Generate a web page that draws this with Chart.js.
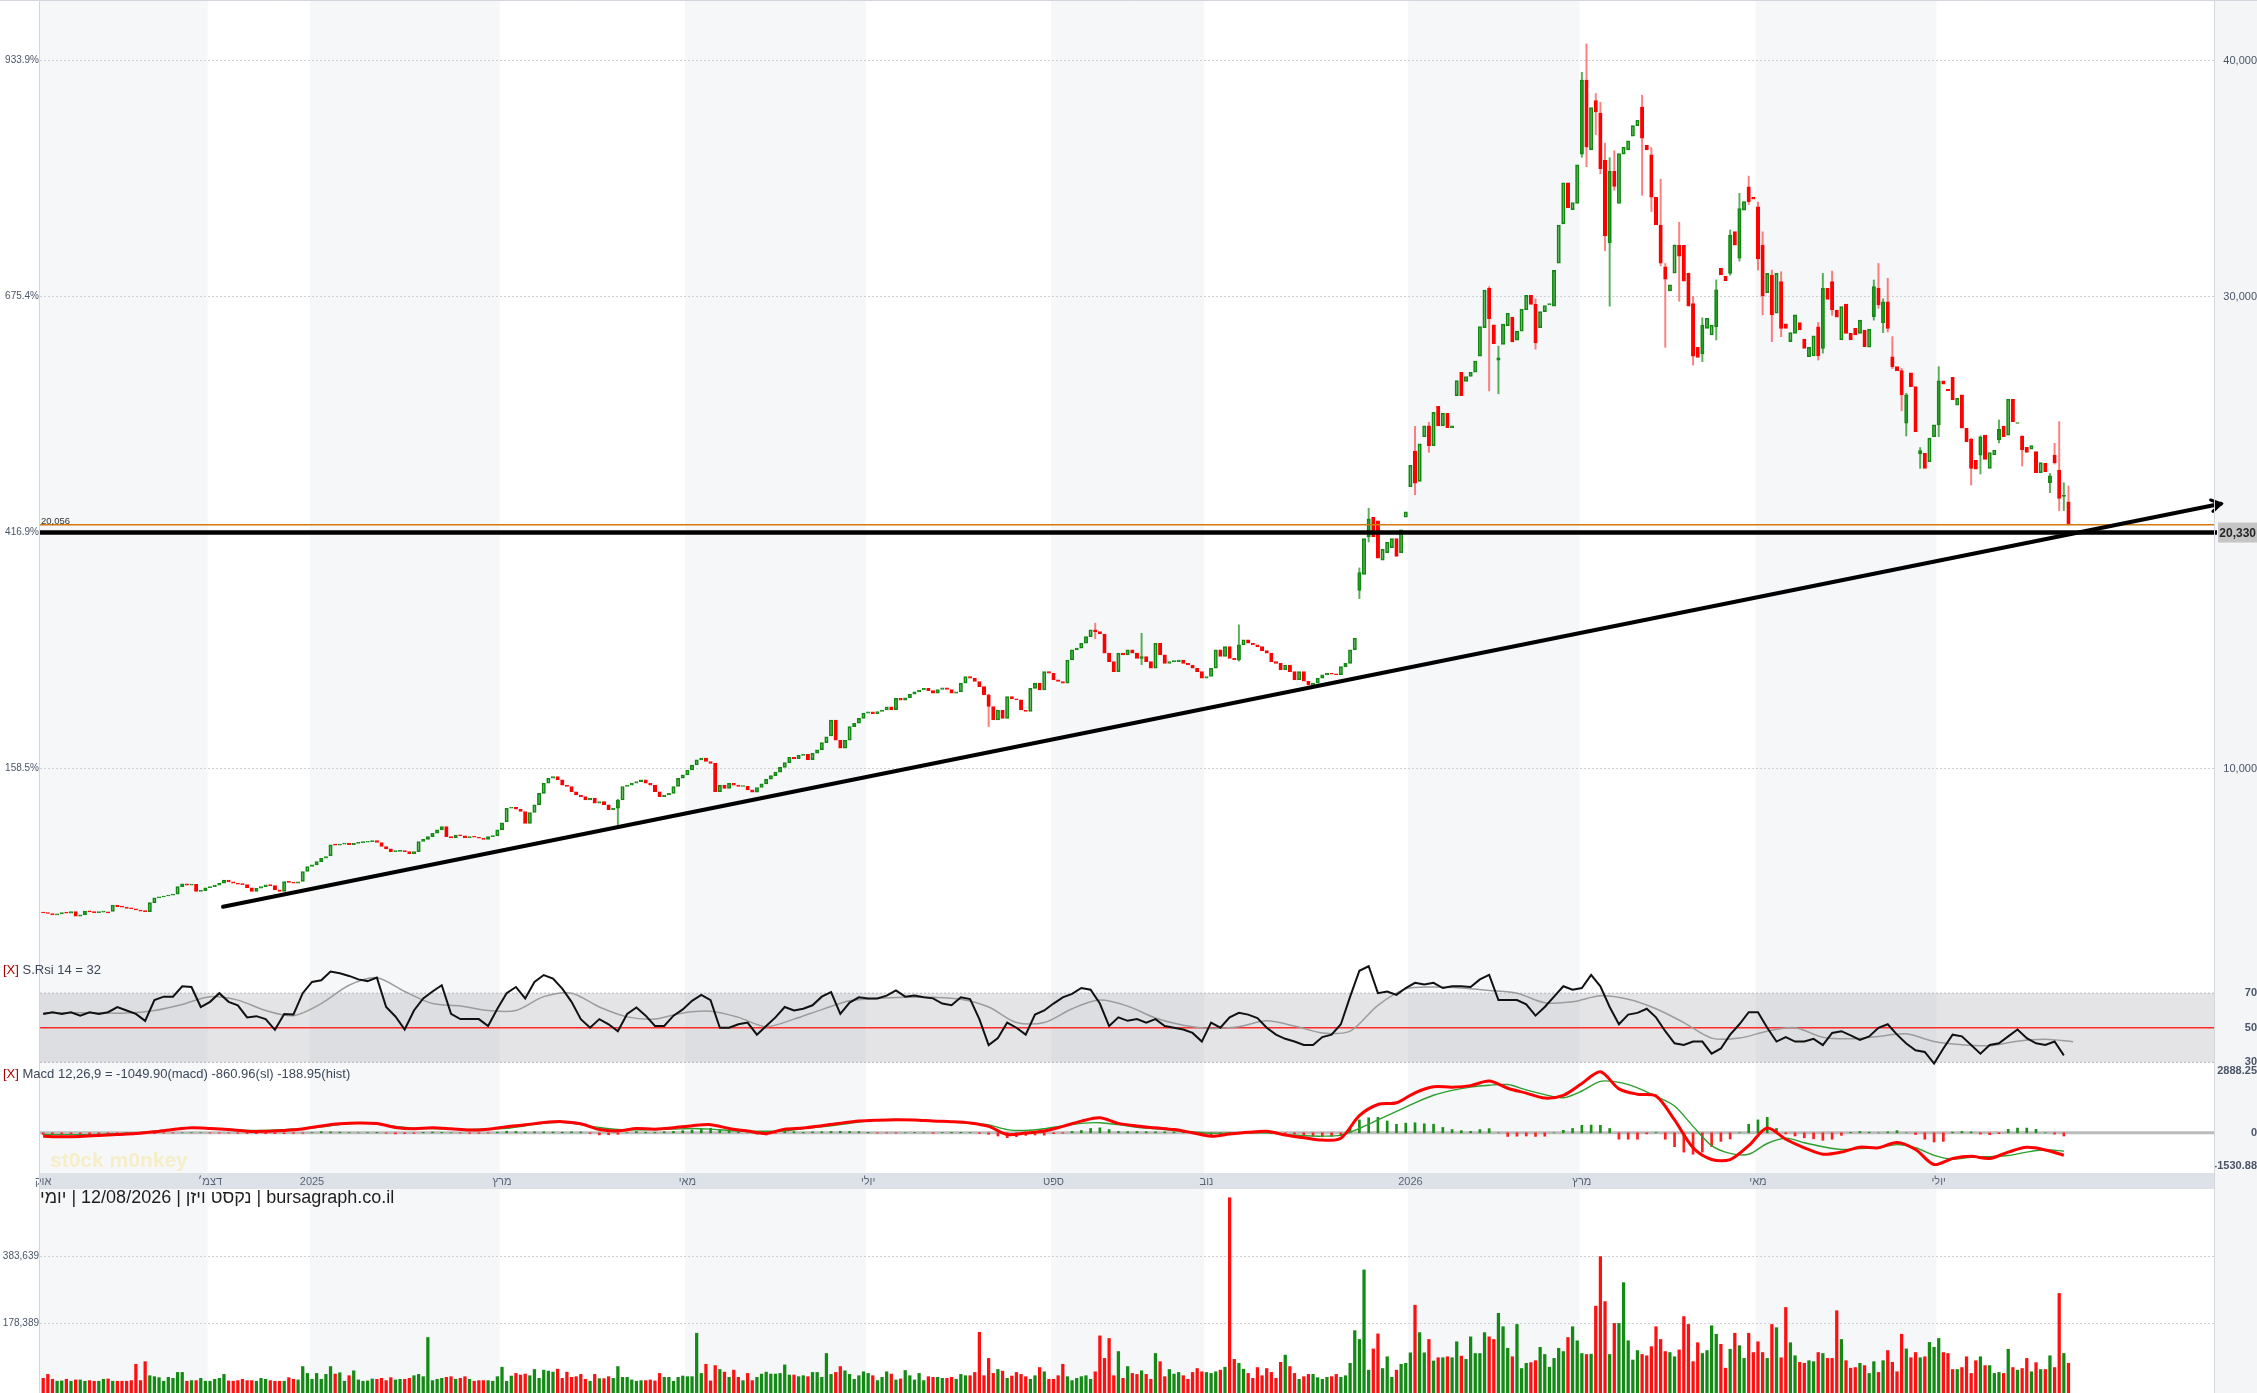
<!DOCTYPE html>
<html lang="he">
<head>
<meta charset="UTF-8">
<title>נקסט ויזן - יומי</title>
<script src="https://cdn.jsdelivr.net/npm/chart.js"></script>
<style>
  html, body { margin: 0; padding: 0; background: #fff; }
  body { width: 2257px; height: 1393px; position: relative; overflow: hidden; font-family: "Liberation Sans", Arial, sans-serif; }
  canvas { position: absolute; left: 0; }
  .ttl { position: absolute; left: 3px; font-size: 13px; line-height: 16px; color: #3b4758; white-space: nowrap; }
  .ttl .x { color: #a80000; }
  .wm { position: absolute; left: 50px; top: 1148px; font-size: 21px; font-weight: bold; color: rgba(248, 226, 140, 0.45); white-space: nowrap; }
  .info { position: absolute; left: 40px; top: 1187px; display: flex; font-size: 18px; line-height: 21px; color: #1e1e1e; white-space: pre; }
</style>
</head>
<body>
<canvas id="cPrice" width="2257" height="957" style="top:0"></canvas>
<canvas id="cRsi" width="2257" height="111" style="top:957px"></canvas>
<canvas id="cMacd" width="2257" height="129" style="top:1060px"></canvas>
<canvas id="cVol" width="2257" height="204" style="top:1189px"></canvas>
<div class="ttl" style="top:962px"><span class="x">[X]</span> S.Rsi 14 = 32</div>
<div class="ttl" style="top:1066px"><span class="x">[X]</span> Macd 12,26,9 = -1049.90(macd) -860.96(sl) -188.95(hist)</div>
<div class="wm">st0ck m0nkey</div>
<div class="info"><span>יומי</span><span> | 12/08/2026 | </span><span>נקסט ויזן</span><span> | bursagraph.co.il</span></div>

<script>
// month labels on the date strip and the bar index where each month starts
const monthLabels = ['אוק', 'דצמ׳', '2025', 'מרץ', 'מאי', 'יולי', 'ספט', 'נוב', '2026', 'מרץ', 'מאי', 'יולי'];
const monthIdx = [0, 36, 58, 99, 139, 178, 218, 251, 295, 332, 370, 409];

// daily candles, one per trading day
const opens = [
  3900,3880,3860,3800,3840,3900,3870,3940,3750,3800, 3960,3930,3900,3920,3930,3950,4220,4150,4130,4080,
  4060,4010,3960,3940,4320,4520,4560,4600,4640,4680, 5000,5120,5060,5100,4800,4830,4950,5000,5060,5140,
  5280,5200,5150,5100,5080,4950,4800,4930,5000,5070, 5040,4860,4800,5210,5180,5140,5220,5640,5850,5920,
  6060,6200,6300,6770,6760,6800,6840,6780,6830,6860, 6880,6900,6950,6870,6700,6600,6480,6490,6520,6480,
  6400,6480,6910,7000,7120,7260,7400,7540,7120,7060, 7180,7150,7060,7120,7090,7050,7000,7120,7150,7400,
  7740,8320,8360,8280,8180,7680,8140,8460,8950,9380, 9590,9660,9520,9300,9240,9020,8880,8810,8670,8740,
  8530,8600,8460,8250,8320,8670,9240,9300,9380,9450, 9520,9380,9300,9020,8810,8880,8950,9240,9590,9730,
  9940,10150,10370,10440,10300,10220,9020,9300,9160,9380, 9300,9240,9250,9100,9000,9200,9350,9550,9700,9850,
  10050,10250,10480,10420,10560,10600,10380,10650,10790,11100, 11380,12060,11200,10860,11200,11780,11920,12130,12350,12400,
  12330,12420,12480,12620,12500,12980,12900,13000,13150,13250, 13330,13400,13300,13200,13350,13420,13350,13200,13250,13620,
  13900,13830,13690,13470,13120,12630,12060,12480,12130,13050, 12950,12910,12480,12420,13400,13620,13330,14110,14040,13760,
  13690,13620,14600,15030,15100,15310,15590,15880,15800,15700, 14890,14530,14110,14890,14820,15030,14890,14670,14750,14530,
  14250,15310,14820,14460,14530,14530,14600,14460,14390,14250, 14110,13830,13900,14250,15030,14750,15170,14670,14600,15240,
  15450,15310,15240,15170,15000,14890,14530,14460,14180,14390, 14110,13760,14110,13700,13540,13620,13830,13970,14040,14000,
  13970,14320,14460,15030,17550,18230,19820,20650,20500,18830, 19140,19360,19740,19140,20650,21940,23450,22170,24060,24520,
  23680,25350,24520,25050,24440,25800,26790,26400,26610,26790, 27470,28680,30350,28800,27300,27970,28760,29130,28150,28530,
  29440,30050,29670,28680,29360,29640,29590,31410,33080,34820, 33680,33940,36030,39170,36210,38300,37770,35770,32270,35300,
  33940,36030,36210,36790,37240,38030,36410,36000,34210,33030, 31260,30240,30990,32170,32170,30990,29700,27850,27570,28650,
  28370,28720,31190,30870,30980,32750,31620,33660,34650,34200, 33800,32180,30160,30910,29290,30630,28840,28090,28440,28900,
  28200,27450,27480,28720,27800,30350,30630,29430,28160,29680, 28440,28650,28440,28580,27850,29150,30350,28890,29780,27450,
  27030,26860,24630,26770,26180,23330,23360,23000,24060,24560, 26430,26070,26580,25400,25830,24420,23950,23070,23280,24130,
  22720,23290,23920,24510,24130,25650,24620,24090,23610,23530, 23430,22540,22930,22110,23280,22650,21530,21300
];
const closes = [
  3880,3860,3800,3840,3900,3870,3940,3750,3800,3960, 3930,3900,3920,3930,3880,4220,4150,4130,4080,4060,
  4010,3960,3940,4320,4520,4560,4600,4640,4680,5000, 5120,5060,5100,4800,4830,4950,5000,5060,5140,5280,
  5200,5150,5100,5080,4950,4800,4930,5000,5070,5040, 4860,4800,5210,5180,5140,5200,5640,5850,5920,6060,
  6200,6270,6770,6760,6800,6840,6780,6830,6860,6880, 6900,6950,6870,6700,6600,6480,6490,6520,6480,6400,
  6480,6910,7000,7120,7260,7400,7540,7120,7060,7180, 7150,7060,7120,7090,7050,7000,7120,7150,7400,7700,
  8320,8360,8280,8180,7680,8140,8460,8950,9380,9590, 9660,9520,9300,9240,9020,8880,8810,8670,8740,8530,
  8600,8460,8250,8320,8670,9240,9300,9380,9450,9520, 9380,9300,9020,8810,8880,8950,9240,9590,9730,9940,
  10150,10370,10440,10300,10220,9020,9300,9160,9380,9300, 9240,9250,9100,9000,9200,9350,9550,9700,9850,10050,
  10250,10480,10420,10560,10600,10380,10650,10790,11100,11350, 12060,11200,10860,11200,11780,11920,12130,12350,12400,12330,
  12420,12480,12620,12500,12980,12900,13000,13150,13250,13330, 13400,13300,13200,13350,13420,13350,13200,13250,13620,13900,
  13830,13690,13470,13120,12630,12060,12480,12130,13050,12950, 12910,12480,12420,13400,13620,13330,14110,14040,13760,13690,
  13620,14600,15030,15100,15310,15590,15880,15800,15700,14890, 14530,14110,14890,14820,15030,14890,14670,14750,14530,14250,
  15310,14820,14460,14530,14530,14600,14460,14390,14250,14110, 13830,13900,14250,15030,14750,15170,14670,14600,15240,15450,
  15310,15240,15170,15000,14890,14530,14460,14180,14390,14110, 13760,14110,13700,13540,13620,13830,13970,14040,14000,13970,
  14320,14460,15030,15520,18300,19740,20580,19820,18910,19290, 19590,19740,18990,20120,20880,22850,22090,23760,24520,23680,
  25090,24520,25050,24440,24520,26440,25800,26610,26790,27270, 28730,30270,29060,28000,27400,28830,29290,28080,28530,29470,
  30050,29670,28030,29360,29620,29700,31110,33030,34820,33760, 33980,35580,39170,36330,38000,37820,35420,32570,35300,34670,
  36060,36330,36600,37240,37470,36710,36210,34210,33030,31410, 30730,30500,32190,31710,30650,29590,27470,27420,28790,29080,
  28790,30280,30910,30670,32600,32180,33730,34020,34020,34120, 31590,30030,30980,29220,30980,28650,28650,28470,29220,28580,
  27800,27850,28330,27480,30350,29880,29430,29120,29570,28440, 28160,28370,29000,27880,28620,30420,29640,29780,28650,27030,
  26860,25830,25830,26180,24270,23470,22720,24000,24560,26430, 26290,26010,25620,25690,24420,23850,22720,22680,24060,23100,
  23390,23490,24370,24060,25650,24700,24630,23500,23390,23680, 22540,22960,22580,22400,22960,21450,21560,20330
];
// candles whose wicks stand out from the body
const wickBars  = [124,204,227,237,258,284,286,296,299,312,314,322,332,333,335,336,337,338,339,345,347,349,350,353,356,358,361,364,366,368,370,371,373,375,383,384,386,395,396,397,398,399,401,402,405,409,416,418,422,427,433,434,435,436,437];
const wickLows  = [7610,11780,15500,14400,14550,17200,19600,21600,23400,26000,25880,27770,35900,35500,36860,35200,31940,29590,34500,34290,33600,31300,27850,29800,27090,27240,28160,30900,31500,33900,31120,29220,28090,28300,27310,27600,29200,29000,29500,28470,28500,26950,25160,24090,22720,24060,22010,22480,23800,22820,21690,22900,20930,20930,20300];
const wickHighs = [8700,13150,16160,15730,16090,18500,21030,24500,24670,30420,27900,29900,39500,40700,38600,38230,36500,35880,36180,38530,36300,34970,31400,33150,30000,29100,30700,32820,34370,35100,34000,32740,31120,31050,28900,30980,31080,30700,31400,29900,30770,28300,26950,25900,23600,27030,24000,24100,24770,24100,22500,23780,24700,22110,21970];

// daily volume, thousands of shares
const volumes = [
  11,23,8,2,3,8,2,6,6,2, 4,2,2,8,9,2,2,2,2,4, 54,4,62,19,16,13,2,14,11,29, 29,2,4,4,11,2,2,8,11,23,
  3,2,4,8,4,4,2,11,8,4, 2,2,2,13,8,6,47,26,8,26, 8,23,47,24,28,2,19,34,6,2, 3,9,8,11,4,13,6,8,8,11,
  19,23,16,136,4,8,11,14,16,8, 11,16,8,2,4,4,4,2,16,45, 2,18,26,21,24,19,38,11,36,33, 30,39,11,30,14,16,23,8,2,23,
  10,10,16,11,47,14,14,6,2,4, 4,6,3,26,14,14,2,14,18,16, 16,149,26,54,3,50,38,30,14,36, 14,4,26,4,14,24,30,24,24,26,
  52,21,21,16,
  19,16,29,29,14,87,23,29,47,34, 23,8,19,31,26,19,4,14,31,24, 6,9,35,19,6,26,4,16,14,14, 11,11,14,8,23,19,19,29,152,19,
  72,26,38,33,11,18,29,23,16,8, 19,44,31,8,8,19,54,16,4,11, 16,19,8,31,141,72,133,19,93,11, 47,26,23,34,23,8,87,62,16,38,
  24,29,19,8,29,41,31,29,26,31, 36,45,564,69,57,39,26,11,44,19, 41,29,11,60,82,47,26,8,16,23, 23,13,8,14,16,23,14,19,57,157,
  130,343,36,101,147,41,77,14,36,54, 57,89,235,151,89,130,64,74,74,77, 74,123,79,69,138,87,87,151,138,130, 210,169,103,77,176,41,57,59,65,106,
  84,45,72,103,93,136,169,126,87,84, 85,232,384,
  246,84,179,179,304,126,67,96,84,80, 108,169,130,93,90,77,98,200,176,62, 120,87,96,172,146,115,42,100,149,111,
  72,149,90,123,90,72,176,166,74,228, 120,80,60,57,65,62,90,87,72,72, 218,130,65,42,44,57,50,26,62,29,
  65,96,60,31,146,101,74,90,74,77, 121,106,133,90,87,38,38,44,77,26, 65,77,50,50,26,29,26,100,44,36,
  41,72,31,59,38,38,80,44,271,87, 57
];

// RSI(14) every 2nd bar, its average every 6th bar
const RSI_STEP = 2, MA_STEP = 6;
const rsi = [
  58,59,58,59,57,59,58,59,62,60, 58,54,66,68,68,74,73.6,62,65,70, 65,63,56,56.7,55,48.8,58,57.7,70,76.5,
  77.5,82.5,81.5,80,78,77,79,62,56.5,49, 60,67,71,74.6,58,55,55,55,51,61, 70,73.6,67,76.5,80.5,78.5,72.6,65,55,50,
  55,52,48,58,61.7,57,51,51,57,60.6, 65.6,69,66,50,50,52,53,46,51,56, 62,60,61,63,68,70.6,58,64.6,67.6,67,
  67,68.6,71.6,68,68.6,67.6,67,64,63,67.6, 66.6,55,40,44,53,50,46,57.6,60,64, 67.6,69.6,73,72,64,51,56,54,55,53,
  55,51,50,49,47,42,53,50,56,58.6, 57.6,55.6,50,46,43.6,42,40,40,44.6,46, 52,68,83,85.6,70,71,69,73,76,75,
  76,73,74,74,73.6,78,80.6,66,66,66, 63.6,57,62,68,74,72,73,80.6,74,62, 52,57.6,58.6,61,56,48,41,40,42,42,
  35,38,46,52,59,59,50,42,44.6,42, 42,43.6,40,47,48,45.6,43,45,50,52, 46,40.9,37,36,29.3,38,46,45,40,35,
  40,41,45,49,44,41,40,42,34
];
const rsiMa = [
  58.7,58.7,58.7,58.5,60,63.5,68,66,60,57, 64,74.6,79,71,64,62.6,60,60,68,70, 62,56.3,55,58.6,59.5,56,50.6,55,60.5,65.6,
  67,67.6,67.6,66.5,62,53,53,61,66,62.5, 55.6,51.5,49.6,50.6,54,51,47,48,63,72.5, 73.6,73,71.6,70,64.5,65,68.5,66.5,61,53,
  44,44,48,50,44.5,43.6,45,46.5,42,40.1, 39.6,42.2,43.3,41.9
];

// MACD 12,26,9: lines every 4th bar, histogram every 2nd bar
const MACD_STEP = 4, HIST_STEP = 2;
const macd = [
  -160,-185,-170,-130,-80,-30,50,150,230,200, 150,74,70,110,180,320,420,460,430,250, 190,230,185,130,170,280,370,480,520,420,
  152,90,200,170,235,330,380,200,79,-30, 170,220,330,450,550,590,610,600,546,520, 460,300,-77,-10,80,300,546,700,440,320,
  230,150,0,-157,-60,20,70,-100,-230,-342, -250,800,1320,1400,1868,2150,2130,2200,2413,2080, 1850,1620,1750,2300,2850,2050,1800,1713,600,-700,
  -1244,-1250,-600,220,-300,-700,-1000,-900,-670,-700, -450,-780,-1480,-1200,-1100,-1200,-900,-680,-800,-1050
];
const signal = [
  -82,-85,-85,-82,-40,0,80,160,225,210, 160,110,110,150,200,270,390,460,410,300, 220,195,180,160,180,205,330,440,490,380,
  250,160,140,150,170,200,170,110,80,75, 90,200,280,380,500,600,620,590,570,500, 450,370,150,110,190,320,440,470,380,260,
  190,110,40,-20,-10,0,0,-80,-140,-157, -110,200,600,1000,1400,1750,1980,2133,2220,2250, 2000,1780,1635,1950,2400,2350,2100,1700,1250,300,
  -600,-960,-1000,-500,-250,-466,-650,-780,-730,-700, -550,-700,-1050,-1230,-1140,-1110,-1060,-900,-790,-860
];
const hist = [
  -78,-90,-100,-95,-85,-65,-48,-45,-40,-35, -30,-30,-30,-15,-10,0,5,0,-10,-10, -10,-25,-36,-40,-40,-40,-40,-30,-20,10,
  50,40,30,10,0,10,20,-20,-50,-40, -30,20,35,20,5,-10,-30,-25,-10,30, 75,60,40,40,40,35,30,40,40,-30,
  -98,-90,-70,0,60,30,20,50,65,100, 130,160,210,140,90,30,0,-60,-105,-20, 80,50,20,40,50,60,70,60,50,20,
  -10,-10,-10,0,10,0,-24,10,20,20, 10,-30,-70,-150,-227,-180,-120,-100,-110,-40, -20,60,106,200,230,150,60,50,60,50,
  40,40,40,20,-40,-100,-137,-100,-50,10, 20,50,70,20,-20,-60,-90,-150,-185,-160, -140,200,600,700,720,550,400,450,468,420,
  400,250,150,100,67,150,193,0,-170,-160, -150,-170,-160,0,115,200,350,360,350,200, -300,-300,-300,-50,13,-300,-650,-900,-1000,-900,
  -644,-400,-290,0,400,600,720,200,-50,-150, -234,-280,-350,-300,-120,20,60,30,0,40, 100,0,-80,-300,-430,-400,30,60,40,-60,
  -90,-40,160,220,220,160,0,-60,-150
];

// price levels drawn on the chart
const BASE_PRICE = 3869;          // start of the % scale on the left
const priceTicks = [10000, 20000, 30000, 40000];
const lastClose = 20330;
const levelLine = 20000;
const levelText = '20,056';
const trendFrom = [38.8, 4144];
const trendTo = [469.9, 21218];

const rsiTicks = [30, 50, 70];
const macdTicks = [-1530.88, 0, 2888.25];
const volTicks = [178.389, 383.639];

// ---- axis ranges (value at the top and bottom edge of each panel) ----
const X_MIN = -0.69, X_MAX = 468.4;
const P_MIN = 2017, P_MAX = 42563;
const RSI_MIN = 26.7, RSI_MAX = 90.95;
const MACD_MIN = -1876, MACD_MAX = 3023;
const VOL_MIN = -34, VOL_MAX = 590.8;

const FONT = '"Liberation Sans", Arial, sans-serif';
const NARROW = '"Liberation Sans Narrow", "Liberation Sans", Arial, sans-serif';
const AXIS_COLOR = '#4a5568';
Chart.defaults.font.family = FONT;

const isUp = closes.map((c, i) => c >= opens[i]);

const xHidden = { type: 'linear', min: X_MIN, max: X_MAX, display: false, offset: false, grid: { offset: false } };
const common = {
  responsive: false, animation: false, events: [],
  plugins: { legend: { display: false }, tooltip: { enabled: false } }
};
const fixedTicks = list => s => { s.ticks = list.map(v => ({ value: v })); };

// Chart.js pads the plot for half a tick label; stretch the value range so the
// panel edges still land on the wanted values
function pinRange(chart, ids, top, bottom, vTop, vBottom) {
  const ca = chart.chartArea;
  const k = (vTop - vBottom) / (bottom - top);
  ids.forEach(id => {
    chart.options.scales[id].max = vTop - (ca.top - top) * k;
    chart.options.scales[id].min = vTop - (ca.bottom - top) * k;
  });
  chart.update();
}

// month bands, right axis strip and frame, shared by every panel
const frame = {
  id: 'frame',
  beforeDraw(chart, args, opts) {
    const { ctx, chartArea: ca } = chart;
    const x = chart.scales.x;
    const top = opts.top || 0;
    const h = chart.height - top;
    ctx.save();
    ctx.fillStyle = '#ffffff';
    ctx.fillRect(0, top, chart.width, h);
    ctx.fillStyle = '#f5f7f9';
    for (let k = 0; k < monthIdx.length; k += 2) {
      const a = k === 0 ? ca.left : x.getPixelForValue(monthIdx[k] - 0.5);
      const b = k + 1 < monthIdx.length ? Math.min(ca.right, x.getPixelForValue(monthIdx[k + 1] - 0.5)) : ca.right;
      ctx.fillRect(a, top, b - a, h);
    }
    ctx.fillStyle = '#f4f5f7';
    ctx.fillRect(ca.right, top, chart.width - ca.right, h);
    ctx.restore();
  },
  afterDraw(chart, args, opts) {
    const { ctx, chartArea: ca } = chart;
    const top = opts.top || 0;
    ctx.save();
    ctx.strokeStyle = '#d3d7dd';
    ctx.lineWidth = 1;
    ctx.beginPath();
    ctx.moveTo(Math.round(ca.left) - 0.5, top); ctx.lineTo(Math.round(ca.left) - 0.5, chart.height);
    ctx.moveTo(Math.round(ca.right) + 0.5, top); ctx.lineTo(Math.round(ca.right) + 0.5, chart.height);
    ctx.stroke();
    ctx.restore();
  }
};

// ---------- price panel ----------
const priceDecor = {
  id: 'priceDecor',
  afterDatasetsDraw(chart) {
    const { ctx, chartArea: ca, scales: { x, y } } = chart;
    const seg = (x0, y0, x1, y1) => { ctx.beginPath(); ctx.moveTo(x0, y0); ctx.lineTo(x1, y1); ctx.stroke(); };
    ctx.save();
    const yo = y.getPixelForValue(lastClose);
    ctx.strokeStyle = '#d27a10'; ctx.lineWidth = 1.5;
    seg(ca.left, yo, ca.right, yo);
    const yb = y.getPixelForValue(levelLine);
    ctx.strokeStyle = '#000'; ctx.lineWidth = 4.5;
    seg(ca.left, yb, ca.right + 3, yb);

    const x0 = x.getPixelForValue(trendFrom[0]), y0 = y.getPixelForValue(trendFrom[1]);
    const x1 = x.getPixelForValue(trendTo[0]), y1 = y.getPixelForValue(trendTo[1]);
    ctx.lineWidth = 4; ctx.lineCap = 'round';
    seg(x0, y0, x1, y1);
    const ang = Math.atan2(y1 - y0, x1 - x0);
    ctx.lineWidth = 3; ctx.lineJoin = 'miter';
    ctx.beginPath();
    ctx.moveTo(x1 - 11 * Math.cos(ang - 0.55), y1 - 11 * Math.sin(ang - 0.55));
    ctx.lineTo(x1, y1);
    ctx.lineTo(x1 - 11 * Math.cos(ang + 0.55), y1 - 11 * Math.sin(ang + 0.55));
    ctx.stroke();

    ctx.fillStyle = '#c5c5c5';
    ctx.fillRect(ca.right + 4, yb - 10, chart.width - ca.right - 4, 20);
    ctx.fillStyle = '#262626'; ctx.font = 'bold 12px ' + FONT;
    ctx.textAlign = 'right'; ctx.textBaseline = 'middle';
    ctx.fillText(lastClose.toLocaleString('en-US'), chart.width - 1, yb + 1);

    ctx.fillStyle = '#333'; ctx.font = '9.5px ' + FONT;
    ctx.textAlign = 'left'; ctx.textBaseline = 'alphabetic';
    ctx.fillText(levelText, ca.left + 1, yo - 1);
    ctx.restore();
  },
  afterDraw(chart) {
    const ctx = chart.ctx;
    ctx.save();
    ctx.strokeStyle = '#d3d7dd'; ctx.lineWidth = 1;
    ctx.beginPath(); ctx.moveTo(0, 0.5); ctx.lineTo(chart.width, 0.5); ctx.stroke();
    ctx.restore();
  }
};

const priceChart = new Chart(document.getElementById('cPrice'), {
  type: 'bar',
  data: {
    datasets: [
      {
        data: closes.map((c, i) => ({ x: i, y: [opens[i], c] })),
        backgroundColor: isUp.map(u => u ? 'rgba(20,140,20,0.5)' : '#ff0000'),
        borderColor: isUp.map(u => u ? '#128a12' : '#ff0000'),
        borderWidth: 1, borderSkipped: false, barThickness: 3.4, minBarLength: 1, grouped: false, clip: false
      },
      {
        data: wickBars.map((b, k) => ({ x: b, y: [wickLows[k], wickHighs[k]] })),
        backgroundColor: wickBars.map(b => isUp[b] ? 'rgba(20,140,20,0.7)' : 'rgba(255,40,40,0.6)'),
        borderWidth: 0, barThickness: 1.3, grouped: false, clip: false
      }
    ]
  },
  options: {
    ...common,
    layout: { padding: 0 },
    scales: {
      x: xHidden,
      y: {
        position: 'right', min: P_MIN, max: P_MAX,
        afterFit: s => { s.width = 43; },
        afterBuildTicks: fixedTicks(priceTicks),
        ticks: { callback: v => v.toLocaleString('en-US'), font: { size: 11 }, color: AXIS_COLOR, padding: 4, crossAlign: 'far' },
        grid: { color: '#cdd2d9', lineWidth: 1, drawTicks: false },
        border: { display: false, dash: [2, 2] }
      },
      yl: {
        position: 'left', min: P_MIN, max: P_MAX,
        afterFit: s => { s.width = 40; },
        afterBuildTicks: fixedTicks(priceTicks),
        ticks: { callback: v => ((v / BASE_PRICE - 1) * 100).toFixed(1) + '%', font: { family: NARROW, size: 10 }, color: AXIS_COLOR, padding: 1 },
        grid: { display: false, drawTicks: false },
        border: { display: false }
      }
    }
  },
  plugins: [frame, priceDecor]
});
pinRange(priceChart, ['y', 'yl'], 0, 957, P_MAX, P_MIN);

// ---------- RSI panel ----------
const rsiDecor = {
  id: 'rsiDecor',
  beforeDatasetsDraw(chart) {
    const { ctx, chartArea: ca, scales: { y } } = chart;
    const y70 = y.getPixelForValue(70), y30 = y.getPixelForValue(30), y50 = y.getPixelForValue(50);
    ctx.save();
    ctx.fillStyle = 'rgba(165,165,172,0.30)';
    ctx.fillRect(ca.left, y70, ca.right - ca.left, y30 - y70);
    ctx.strokeStyle = '#b4b4b8'; ctx.lineWidth = 1; ctx.setLineDash([2, 2]);
    ctx.beginPath();
    ctx.moveTo(ca.left, y70); ctx.lineTo(ca.right, y70);
    ctx.moveTo(ca.left, y30); ctx.lineTo(ca.right, y30);
    ctx.stroke();
    ctx.setLineDash([]);
    ctx.strokeStyle = '#ff2b2b'; ctx.lineWidth = 1.5;
    ctx.beginPath(); ctx.moveTo(ca.left, y50); ctx.lineTo(ca.right, y50); ctx.stroke();
    ctx.restore();
  }
};

const rsiChart = new Chart(document.getElementById('cRsi'), {
  type: 'line',
  data: {
    datasets: [
      { data: rsi.map((v, k) => ({ x: k * RSI_STEP, y: v })), borderColor: '#111', borderWidth: 2, pointRadius: 0, tension: 0, clip: false },
      { data: rsiMa.map((v, k) => ({ x: k * MA_STEP, y: v })), borderColor: '#9c9c9c', borderWidth: 1.5, pointRadius: 0, tension: 0.3, clip: false }
    ]
  },
  options: {
    ...common,
    layout: { padding: { left: 40 } },
    scales: {
      x: xHidden,
      y: {
        position: 'right', min: RSI_MIN, max: RSI_MAX,
        afterFit: s => { s.width = 43; },
        afterBuildTicks: fixedTicks(rsiTicks),
        ticks: { font: { size: 11, weight: 'bold' }, color: AXIS_COLOR, padding: 4, crossAlign: 'far' },
        grid: { display: false, drawTicks: false },
        border: { display: false }
      }
    }
  },
  plugins: [frame, rsiDecor]
});
pinRange(rsiChart, ['y'], 0, 111, RSI_MAX, RSI_MIN);

// ---------- MACD panel with the date strip under it ----------
const macdDecor = {
  id: 'macdDecor',
  beforeDraw(chart) {
    const { ctx, chartArea: ca } = chart;
    ctx.save();
    ctx.fillStyle = '#dde2e9';
    ctx.fillRect(ca.left, 113, ca.right - ca.left, chart.height - 113);
    ctx.restore();
  },
  beforeDatasetsDraw(chart) {
    const { ctx, chartArea: ca, scales: { y } } = chart;
    const y0 = y.getPixelForValue(0);
    ctx.save();
    ctx.strokeStyle = '#bcbcbc'; ctx.lineWidth = 3;
    ctx.beginPath(); ctx.moveTo(ca.left, y0); ctx.lineTo(ca.right, y0); ctx.stroke();
    ctx.restore();
  }
};

const macdChart = new Chart(document.getElementById('cMacd'), {
  type: 'line',
  data: {
    datasets: [
      { data: macd.map((v, k) => ({ x: k * MACD_STEP, y: v })), borderColor: '#ff0000', borderWidth: 3, pointRadius: 0, tension: 0.3, clip: false },
      { data: signal.map((v, k) => ({ x: k * MACD_STEP, y: v })), borderColor: '#2e9e2e', borderWidth: 1.4, pointRadius: 0, tension: 0.3, clip: false },
      {
        type: 'bar',
        data: hist.map((v, k) => ({ x: k * HIST_STEP, y: v })),
        backgroundColor: hist.map(v => v >= 0 ? '#1a8f1a' : '#ff2020'),
        barThickness: 2, grouped: false, clip: false
      }
    ]
  },
  options: {
    ...common,
    layout: { padding: { left: 40, top: 8 } },
    plugins: { ...common.plugins, frame: { top: 8 } },
    scales: {
      x: {
        type: 'linear', min: X_MIN, max: X_MAX, position: 'bottom', offset: false,
        afterFit: s => { s.height = 16; },
        afterBuildTicks: fixedTicks(monthIdx),
        ticks: {
          autoSkip: false, maxRotation: 0, minRotation: 0, padding: 2,
          font: { size: 11 }, color: '#5b6576',
          callback: (v, i) => monthLabels[i]
        },
        grid: { display: false, drawTicks: false, offset: false },
        border: { display: false }
      },
      y: {
        position: 'right', min: MACD_MIN, max: MACD_MAX,
        afterFit: s => { s.width = 43; },
        afterBuildTicks: fixedTicks(macdTicks),
        ticks: { callback: v => v === 0 ? '0' : v.toFixed(2), font: { size: 11, weight: 'bold' }, color: AXIS_COLOR, padding: 1, crossAlign: 'far' },
        grid: { display: false, drawTicks: false },
        border: { display: false }
      }
    }
  },
  plugins: [frame, macdDecor]
});
pinRange(macdChart, ['y'], 8, 113, MACD_MAX, MACD_MIN);

// ---------- volume panel ----------
const volChart = new Chart(document.getElementById('cVol'), {
  type: 'bar',
  data: {
    datasets: [{
      data: volumes.map((v, i) => ({ x: i, y: v })),
      base: VOL_MIN,
      backgroundColor: isUp.map(u => u ? '#138a13' : '#ff1010'),
      barThickness: 2.6, grouped: false, clip: false
    }]
  },
  options: {
    ...common,
    layout: { padding: { right: 43 } },
    scales: {
      x: xHidden,
      y: {
        position: 'left', min: VOL_MIN, max: VOL_MAX,
        afterFit: s => { s.width = 40; },
        afterBuildTicks: fixedTicks(volTicks),
        ticks: { callback: v => Math.round(v * 1000).toLocaleString('en-US'), font: { family: NARROW, size: 10 }, color: AXIS_COLOR, padding: 1 },
        grid: { color: '#cdd2d9', drawTicks: false },
        border: { display: false, dash: [2, 2] }
      }
    }
  },
  plugins: [frame]
});
pinRange(volChart, ['y'], 0, 204, VOL_MAX, VOL_MIN);
</script>
</body>
</html>
